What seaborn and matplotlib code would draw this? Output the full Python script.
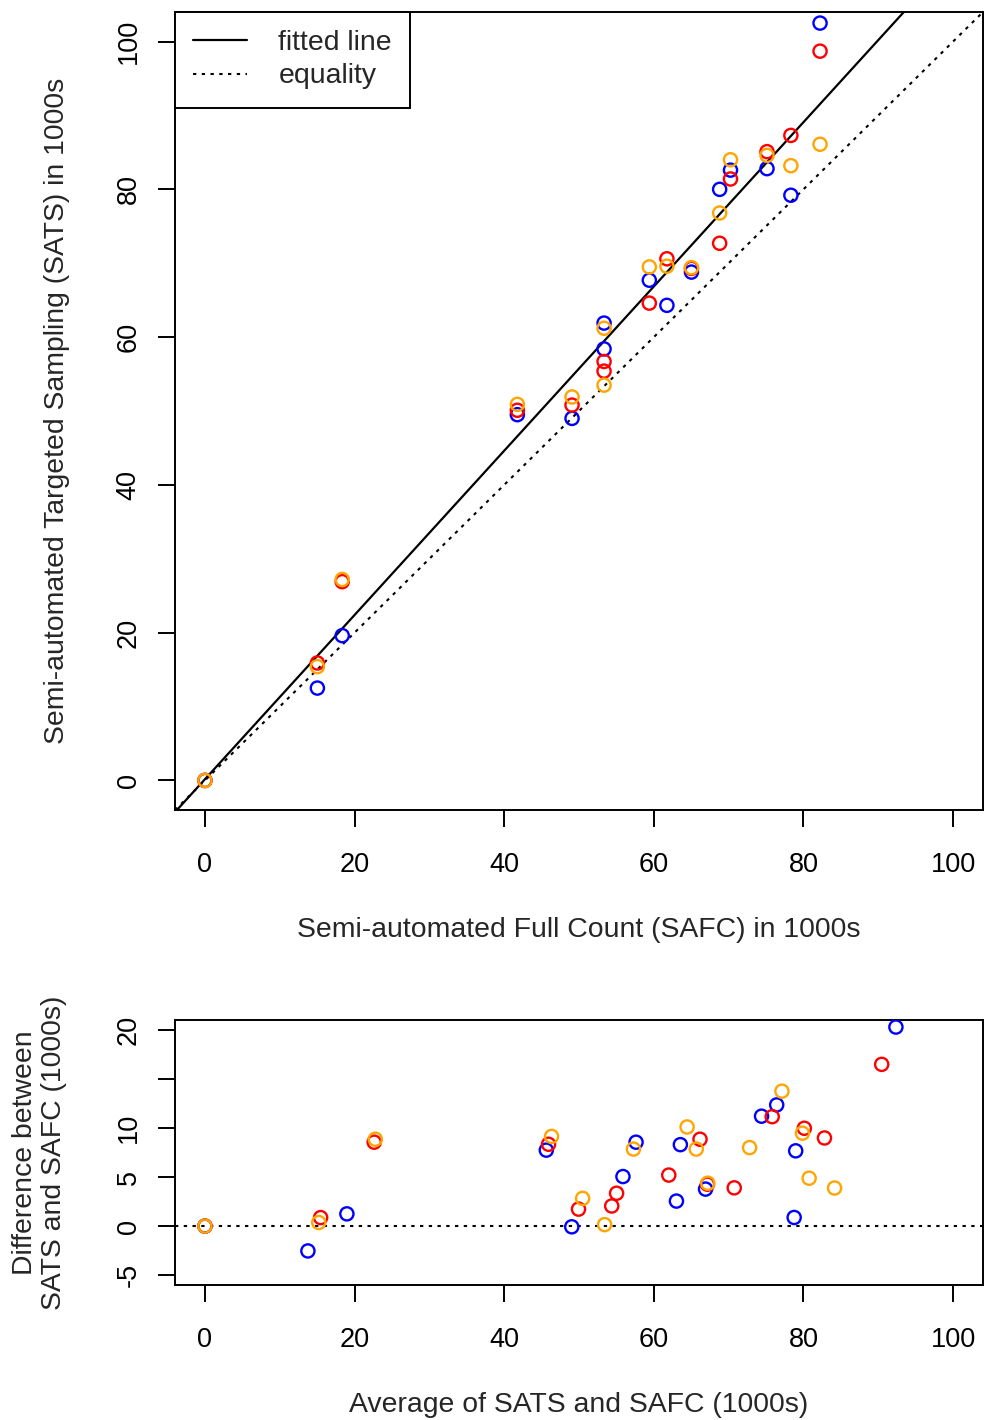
import numpy as np
import pandas as pd
import seaborn as sns
import matplotlib
matplotlib.use("Agg")
import matplotlib.pyplot as plt
from matplotlib.lines import Line2D

# Full count per site (1000s), one value per site
safc = [0.0, 15.03, 18.35, 41.76, 49.07, 53.35, 53.35, 59.4, 61.75, 65.03,
        68.8, 70.25, 75.13, 78.32, 82.22]
# Targeted sampling, three replicates per site (1000s)
sats_blue = [0.0, 12.5, 19.6, 49.5, 49.0, 61.9, 58.4, 67.7, 64.3, 68.8,
             80.0, 82.6, 82.8, 79.2, 102.5]
sats_red = [0.0, 15.9, 26.9, 50.1, 50.8, 56.7, 55.4, 64.6, 70.6, 69.3,
            72.7, 81.4, 85.1, 87.3, 98.7]
sats_orange = [0.0, 15.4, 27.2, 50.9, 51.9, 61.2, 53.5, 69.5, 69.6, 69.4,
               76.8, 84.0, 84.6, 83.2, 86.1]

reps = {'blue': sats_blue, 'red': sats_red, 'orange': sats_orange}

df = pd.concat([pd.DataFrame({'safc': safc, 'sats': v, 'rep': k})
                for k, v in reps.items()], ignore_index=True)
df['avg'] = (df['sats'] + df['safc']) / 2
df['diff'] = df['sats'] - df['safc']

slope, intercept = np.polyfit(df['safc'], df['sats'], 1)

sns.set_style('ticks')
plt.rcParams['font.family'] = ['Liberation Sans', 'DejaVu Sans']
plt.rcParams['axes.linewidth'] = 1.4
fs_tick = 19.5
fs_lab = 20.4

fig = plt.figure(figsize=(9.86, 14.2), dpi=100)
W, H = 986, 1420
ax1 = fig.add_axes([175 / W, (H - 810) / H, 808 / W, 798 / H])
ax2 = fig.add_axes([175 / W, (H - 1285) / H, 808 / W, 265 / H])

for c in ['blue', 'red', 'orange']:
    sub = df[df['rep'] == c]
    sns.scatterplot(x=sub['safc'], y=sub['sats'], ax=ax1, color=c,
                    facecolor='none', edgecolor=c, linewidth=1.7, s=90,
                    zorder=3, legend=False)
    sns.scatterplot(x=sub['avg'], y=sub['diff'], ax=ax2, color=c,
                    facecolor='none', edgecolor=c, linewidth=1.7, s=90,
                    zorder=3, legend=False)

dots = (0, (1.6, 2.6))
ax1.axline((0, intercept), slope=slope, color='black', lw=1.6)
ax1.axline((0, 0), slope=1, color='black', lw=1.5, linestyle=dots)
ax2.axhline(0, color='black', lw=1.5, linestyle=dots)

ax1.set_xlim(-4, 104)
ax1.set_ylim(-4, 104)
ax1.set_xticks(range(0, 101, 20))
ax1.set_yticks(range(0, 101, 20))
ax2.set_xlim(-4, 104)
ax2.set_ylim(-6, 21)
ax2.set_xticks(range(0, 101, 20))
ax2.set_yticks(range(-5, 21, 5))
ax2.set_yticklabels(['-5', '0', '5', '10', '', '20'])

for ax in (ax1, ax2):
    for sp in ax.spines.values():
        sp.set_visible(True)
        sp.set_linewidth(1.4)
        sp.set_color('black')
    ax.tick_params(axis='both', length=12, width=1.4,
                   labelsize=fs_tick, color='black', labelcolor='black')
    ax.tick_params(axis='x', pad=18)
    ax.tick_params(axis='y', pad=12)
    for t in ax.get_yticklabels():
        t.set_rotation(90)
        t.set_va('center')

ax1.set_xlabel('Semi-automated Full Count (SAFC) in 1000s', fontsize=fs_lab)
ax1.set_ylabel('Semi-automated Targeted Sampling (SATS) in 1000s', fontsize=fs_lab)
ax2.set_xlabel('Average of SATS and SAFC (1000s)', fontsize=fs_lab)
ax2.set_ylabel('Difference between\nSATS and SAFC (1000s)', fontsize=fs_lab,
               linespacing=1.15)

ax1.xaxis.set_label_coords(0.5, -(930 - 810) / 798)
ax1.xaxis.label.set_va('center')
ax1.yaxis.set_label_coords(-(175 - 57) / 808, 0.5)
ax1.yaxis.label.set_va('center')
ax2.xaxis.set_label_coords(0.5, -(1405 - 1285) / 265)
ax2.xaxis.label.set_va('center')
ax2.yaxis.set_label_coords(-(175 - 40) / 808, 0.5)
ax2.yaxis.label.set_va('center')

handles = [Line2D([], [], color='black', lw=1.6),
           Line2D([], [], color='black', lw=1.5, linestyle=dots)]
leg = ax1.legend(handles, ['fitted line', 'equality'], loc='upper left',
                 borderaxespad=0, fontsize=fs_lab, fancybox=False,
                 edgecolor='black', framealpha=1, handlelength=1.9,
                 handletextpad=1.1, borderpad=0.65, labelspacing=0.25)
leg.get_frame().set_linewidth(1.4)

fig.savefig('out.png', dpi=100)
